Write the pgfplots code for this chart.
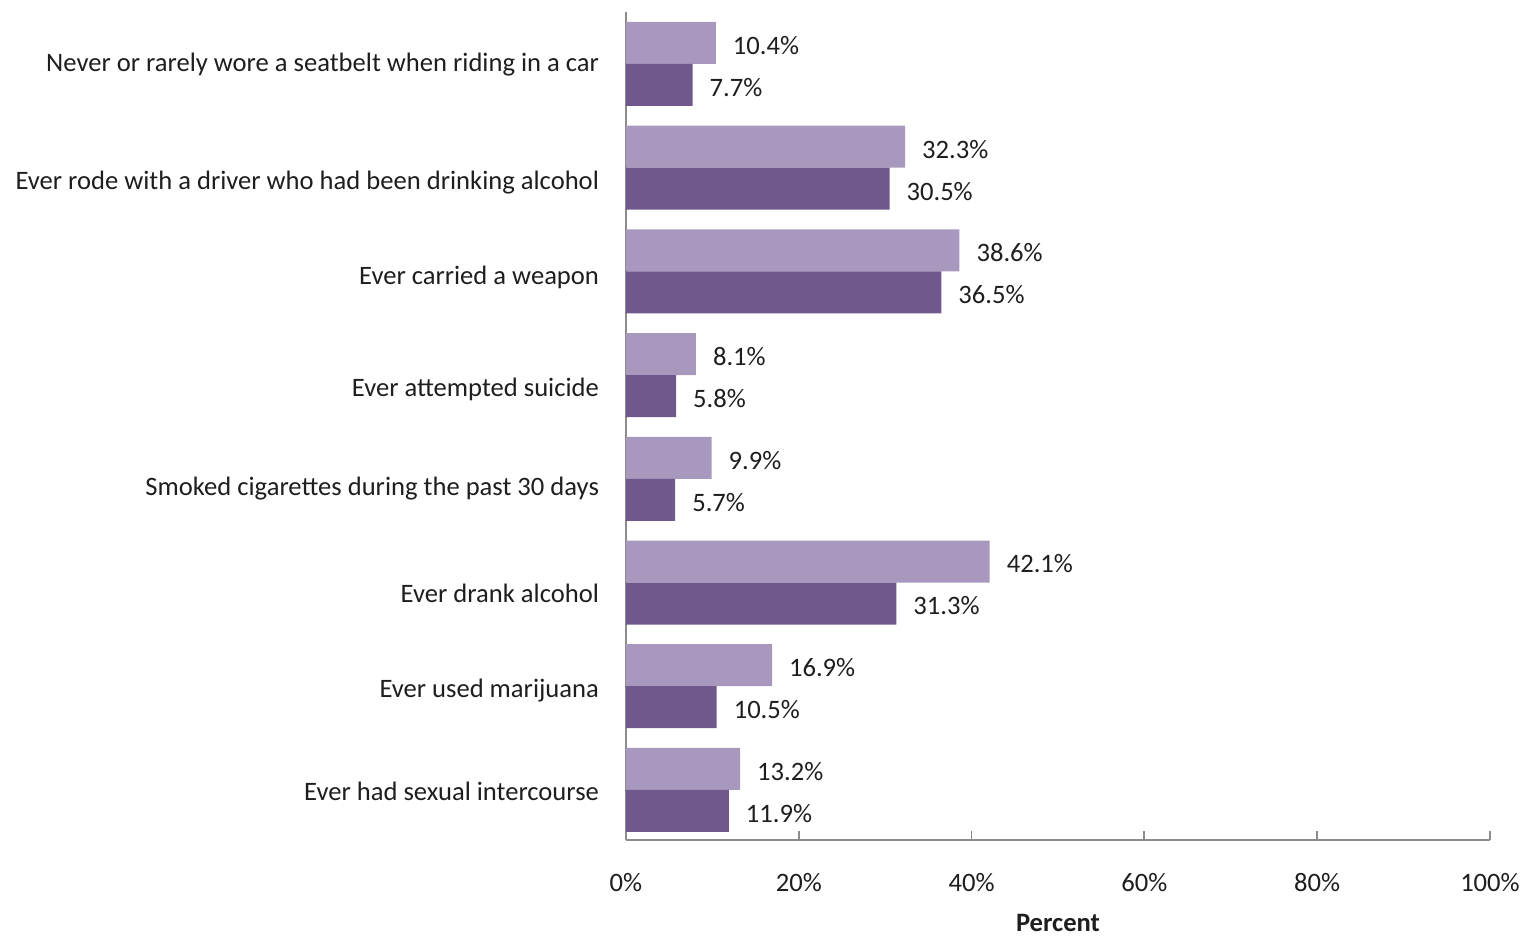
\documentclass[border=0pt]{standalone}
\usepackage{pgfplots}
\pgfplotsset{compat=1.18}
\usepackage{fontspec}
\setmainfont{Carlito}
\definecolor{lightp}{HTML}{A898BD}
\definecolor{darkp}{HTML}{70588C}
\definecolor{axgray}{HTML}{8C8C8C}
\definecolor{txt}{HTML}{1E1E1E}
\begin{document}
\begin{tikzpicture}[x=1pt,y=1pt]
\path[use as bounding box] (-313pt,-48.5pt) rectangle (451pt,420pt);
\begin{axis}[
  at={(0,0)}, anchor=south west,
  scale only axis, width=432pt, height=414pt,
  xbar, bar width=21pt,
  xmin=0, xmax=100,
  ymin=0.517, ymax=8.5014,
  axis x line*=bottom, axis y line*=left,
  axis line style={axgray, line width=0.9pt, -},
  xtick={0,20,40,60,80,100},
  xticklabels={0\%,20\%,40\%,60\%,80\%,100\%},
  tick align=inside,
  x tick style={axgray, line width=0.9pt},
  major tick length=4.5pt,
  y tick style={draw=none},
  ytick={7.990,6.852,5.946,4.866,3.902,2.899,1.954,0.989},
  yticklabels={Never or rarely wore a seatbelt when riding in a car,
    Ever rode with a driver who had been drinking alcohol,
    Ever carried a weapon,
    Ever attempted suicide,
    Smoked cigarettes during the past 30 days,
    Ever drank alcohol,
    Ever used marijuana,
    Ever had sexual intercourse},
  yticklabel style={font=\fontsize{13.3}{15}\selectfont, text=txt, xshift=-10pt},
  xticklabel style={font=\fontsize{13.3}{15}\selectfont, text=txt, yshift=-13pt},
  xlabel={\textbf{Percent}},
  xlabel style={font=\fontsize{13.3}{15}\selectfont, text=txt, yshift=-4.5pt},
  /pgf/number format/assume math mode=true,
  nodes near coords={\pgfmathprintnumber[fixed,fixed zerofill,precision=1,assume math mode=true]{\pgfplotspointmeta}\%},
  nodes near coords style={font=\fontsize{13.3}{15}\selectfont, text=txt, anchor=west, xshift=5pt, yshift=-1.2pt},
  point meta=explicit,
  clip=false,
]
\addplot[fill=lightp, draw=none, bar shift=10.5pt] coordinates {
  (10.4,8) [10.4] (32.3,7) [32.3] (38.6,6) [38.6] (8.1,5) [8.1]
  (9.9,4) [9.9] (42.1,3) [42.1] (16.9,2) [16.9] (13.2,1) [13.2]};
\addplot[fill=darkp, draw=none, bar shift=-10.5pt] coordinates {
  (7.7,8) [7.7] (30.5,7) [30.5] (36.5,6) [36.5] (5.8,5) [5.8]
  (5.7,4) [5.7] (31.3,3) [31.3] (10.5,2) [10.5] (11.9,1) [11.9]};
\end{axis}
\end{tikzpicture}
\end{document}
